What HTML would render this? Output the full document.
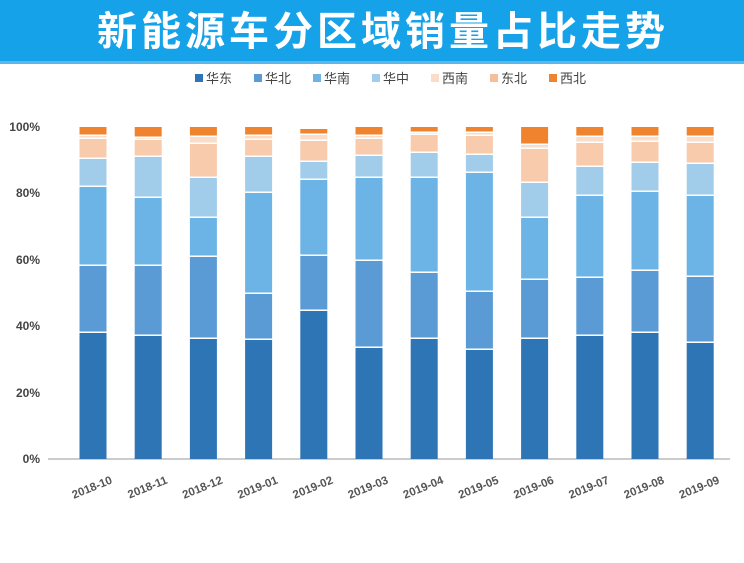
<!DOCTYPE html>
<html><head><meta charset="utf-8"><style>
body{margin:0;width:744px;height:558px;overflow:hidden;background:#fff;font-family:"Liberation Sans","Noto Sans CJK SC",sans-serif}
</style></head><body>
<svg width="744" height="558" xmlns="http://www.w3.org/2000/svg" font-family="Liberation Sans, Noto Sans CJK SC, sans-serif">
<rect x="0" y="0" width="744" height="61" fill="#16a2e8"/>
<rect x="0" y="61" width="744" height="3" fill="#5bb8e8"/>
<text x="383" y="45" text-anchor="middle" fill="#fff" font-size="40" font-weight="bold" letter-spacing="4" font-family="Noto Sans CJK SC, sans-serif">新能源车分区域销量占比走势</text>
<g font-size="13" fill="#444">
<rect x="195" y="74" width="8" height="8" fill="#2e75b6"/><text x="206" y="83">华东</text>
<rect x="254" y="74" width="8" height="8" fill="#5b9bd5"/><text x="265" y="83">华北</text>
<rect x="313" y="74" width="8" height="8" fill="#6cb4e6"/><text x="324" y="83">华南</text>
<rect x="372" y="74" width="8" height="8" fill="#a2cdea"/><text x="383" y="83">华中</text>
<rect x="431" y="74" width="8" height="8" fill="#fbdcc6"/><text x="442" y="83">西南</text>
<rect x="490" y="74" width="8" height="8" fill="#f6be9a"/><text x="501" y="83">东北</text>
<rect x="549" y="74" width="8" height="8" fill="#f0842e"/><text x="560" y="83">西北</text>
</g>
<g font-size="12" fill="#444" font-weight="bold" text-anchor="end">
<text x="40" y="131">100%</text><text x="40" y="197">80%</text><text x="40" y="264">60%</text>
<text x="40" y="330">40%</text><text x="40" y="397">20%</text><text x="40" y="463">0%</text>
</g>
<line x1="48" y1="459" x2="730" y2="459" stroke="#999" stroke-width="1"/>
<g id="bars"></g>
<g id="labels" font-size="11.5" font-weight="bold" fill="#555"></g>
</svg>
<script>
var tops=[
[333,266,187,159,139,136,127],
[336,266,198,157,140,138,127],
[339,257,218,178,144,137,127],
[340,294,193,157,140,136,127],
[311,256,180,162,141,135,129],
[348,261,178,156,139,136,127],
[339,273,178,153,135,133,127],
[350,292,173,155,136,133,127],
[339,280,218,183,149,145,127],
[336,278,196,167,143,137,127],
[333,271,192,163,142,137,127],
[343,277,196,164,143,137,127]];
var cols=["#2e75b6","#5b9bd5","#6cb4e6","#a2cdea","#f8cbad","#fbdcc6","#f0842e"];
var names=["2018-10","2018-11","2018-12","2019-01","2019-02","2019-03","2019-04","2019-05","2019-06","2019-07","2019-08","2019-09"];
var ns="http://www.w3.org/2000/svg",g=document.getElementById("bars"),L=document.getElementById("labels");
tops.forEach(function(t,i){
 var cx=93+i*55.2,bot=459;
 t.forEach(function(y,j){
  var r=document.createElementNS(ns,"rect");
  r.setAttribute("x",cx-13.5);r.setAttribute("width",27);
  r.setAttribute("y",y);r.setAttribute("height",Math.max(0,bot-y-(j>0?1.5:0)));
  r.setAttribute("fill",cols[j]);g.appendChild(r);bot=y;
 });
 var tx=document.createElementNS(ns,"text");
 tx.setAttribute("x",cx+20);tx.setAttribute("y",483);tx.setAttribute("text-anchor","end");
 tx.setAttribute("transform","rotate(-22 "+(cx+20)+" 483)");tx.textContent=names[i];L.appendChild(tx);
});
</script>
</body></html>
